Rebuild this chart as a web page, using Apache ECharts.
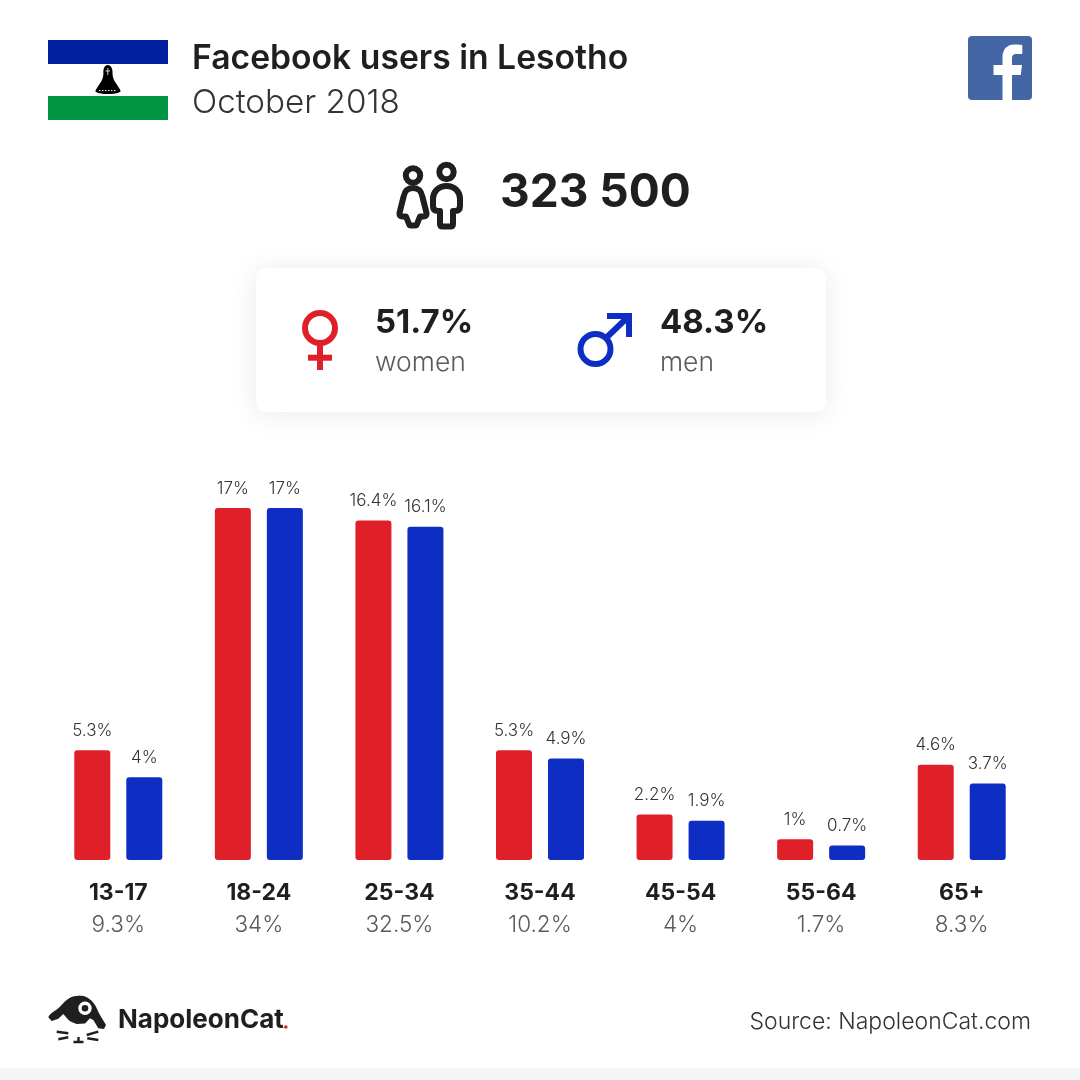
<!DOCTYPE html>
<html><head><meta charset="utf-8">
<style>html,body{margin:0;padding:0;background:#fff}#c{width:1080px;height:1080px}</style>
<script src="https://cdn.jsdelivr.net/npm/echarts@6/dist/echarts.min.js"></script>
</head><body><div id="c"></div>
<script>
const categories = ['13-17','18-24','25-34','35-44','45-54','55-64','65+'];
const womenValues = [5.3,17,16.4,5.3,2.2,1,4.6];
const menValues = [4,17,16.1,4.9,1.9,0.7,3.7];
const ageShares = ['9.3%','34%','32.5%','10.2%','4%','1.7%','8.3%'];
const titleText = 'Facebook users in Lesotho';
const subtitleText = 'October 2018';
const totalText = '323 500';
const womenShare = '51.7%';
const menShare = '48.3%';
const sourceText = 'Source: NapoleonCat.com';

const FONT = 'Inter, "Noto Sans", sans-serif';
const RED = '#df2028', BLUE = '#0e2dc2', DARK = '#1f1f1f', GREY = '#5a5a5a';

const shapes = {
  hat: 'M107.8 65 C105 65 103.4 68 103.4 72 C103.4 76 103 78 101.5 81 L96 89.5 C95 91 95.5 92 97 92.5 C103 94.5 113 94.5 119 92.5 C120.5 92 121 91 120 89.5 L114.5 81 C113 78 112.5 76 112.5 72 C112.5 68 110.6 65 107.8 65 Z',
  hatDots: 'M99 90.6 L117 90.6',
  hatWin: 'M107.8 68 L107.8 75 M105.5 71 L110 71',
  fbF: 'M1012 100 L1012 75 L1020.8 75 L1022 65 L1012 65 L1012 58.8 C1012 56 1012.8 54 1016.8 54 L1022.3 54 L1022.3 45 C1021 44.9 1018 44.6 1014.5 44.6 C1007 44.6 1002.5 49.2 1002.5 57.6 L1002.5 65 L993.5 65 L993.5 75 L1002.5 75 L1002.5 100 Z',
  woman: 'M413 188 C406.5 188 404.5 192 403.5 197 L399.5 213 Q399 216.5 402 216.5 L406 216.5 L409 224 Q409.5 225.5 411 225.5 L415 225.5 Q416.5 225.5 417 224 L420 216.5 L424 216.5 Q427 216.5 426.5 213 L422.5 197 C421.5 192 419.5 188 413 188 Z',
  man: 'M446.5 186 C438 186 433 192 433 199 L433 206 Q433 211 438 211 L440 211 L440 224 Q440 226.5 442.5 226.5 L450.5 226.5 Q453 226.5 453 224 L453 211 L455 211 Q460 211 460 206 L460 199 C460 192 455 186 446.5 186 Z',
  cat: 'M48.3 1017.3 C50 1013 55 1011 58.3 1008.3 C62 1005 63 1003 66.7 1000 C70 997.5 73 996 76.7 996 C80.5 995.6 84 996 86.7 997.3 C90 999 93 1002 95 1005 C97 1008 98 1012 100 1015 L106 1025 L104 1029 L98.3 1028.3 L93.3 1020 L90 1018.3 L85 1023.5 L76.7 1024 C73 1023 70 1021.5 68.3 1019.8 L63.3 1014 L58.3 1018.8 L51.7 1021 Z',
  whiskers: 'M56.7 1031.7 L68.3 1033.3 M58.3 1039.3 L68.3 1037.3 M86.7 1035 L98.3 1031.7 M87.3 1038.3 L98.3 1040 M73.5 1042 L83.5 1042 M78.5 1037 L78.5 1042'
};
Object.keys(shapes).forEach(k => echarts.graphic.registerShape(k, echarts.graphic.extendPath(shapes[k], {})));

function txt(x, y, text, size, weight, fill, align) {
  return {type:'text', x, y, silent:true, style:{text, fontFamily:FONT, fontSize:size, fontWeight:weight, fill, align:align||'left', verticalAlign:'middle'}};
}
function rect(x,y,w,h,fill,r,extra){
  return {type:'rect', silent:true, shape:{x,y,width:w,height:h,r:r||0}, style:Object.assign({fill},extra||{})};
}
function ring(cx,cy,r,stroke,lw,fill){
  return {type:'circle', silent:true, shape:{cx,cy,r}, style:{fill:fill||'transparent',stroke,lineWidth:lw}};
}
function line(x1,y1,x2,y2,stroke,lw){
  return {type:'line', silent:true, shape:{x1,y1,x2,y2}, style:{stroke,lineWidth:lw}};
}

const graphicEls = [
  rect(0,1068,1080,12,'#f5f5f5'),
  // flag
  rect(48,40,120,24,'#00209f'),
  rect(48,96,120,24,'#009543'),
  {type:'hat', silent:true, style:{fill:'#000'}},
  {type:'hatDots', silent:true, style:{fill:'none',stroke:'#fff',lineWidth:1,lineDash:[1.5,1.5]}},
  {type:'hatWin', silent:true, style:{fill:'none',stroke:'#fff',lineWidth:0.8}},
  // header
  txt(192,59,titleText,33.7,600,DARK),
  txt(192,103,subtitleText,33.2,300,'#333'),
  // facebook
  rect(968,36,64,64,'#4566a5',4),
  {type:'fbF', silent:true, style:{fill:'#fff'}},
  // total
  ring(413,175.5,7.2,DARK,6),
  ring(446.5,172,7.2,DARK,6),
  {type:'woman', silent:true, style:{fill:'none',stroke:DARK,lineWidth:6,lineJoin:'round'}},
  {type:'man', silent:true, style:{fill:'none',stroke:DARK,lineWidth:6,lineJoin:'round'}},
  txt(500,193,totalText,46,700,DARK),
  // card
  rect(256,268,570,144,'#fff',10,{shadowBlur:28,shadowColor:'rgba(0,0,0,0.09)',shadowOffsetY:2}),
  ring(320,328,15,RED,6),
  rect(317,345,6,25,RED),
  rect(308,354.7,24,6,RED),
  ring(595.5,349,15,BLUE,6),
  line(606,338,628,317,BLUE,6),
  rect(607,313,25,6,BLUE),
  rect(626,313,6,24,BLUE),
  txt(375,323,womenShare,33,700,DARK),
  txt(375,363,'women',26.5,300,GREY),
  txt(660,323,menShare,33,700,DARK),
  txt(660,363,'men',26.5,300,GREY),
  // footer logo
  {type:'cat', silent:true, style:{fill:DARK}},
  ring(85,1008.3,5,'#fff',3.4,DARK),
  {type:'whiskers', silent:true, style:{fill:'none',stroke:DARK,lineWidth:2.4}},
  txt(118,1020,'NapoleonCat',26,700,DARK),
  {type:'circle', silent:true, shape:{cx:285.8,cy:1027,r:1.8}, style:{fill:RED}},
  txt(1031,1022,sourceText,23,300,'#333','right')
];

const barLabel = {show:true, position:'top', distance:11, formatter:'{c}%', fontFamily:FONT, fontSize:17, fontWeight:300, color:'#333'};
const chart = echarts.init(document.getElementById('c'), null, {renderer:'canvas'});
chart.setOption({
  animation:false,
  backgroundColor:'#fff',
  grid:{left:48, width:984, top:446, height:414, containLabel:false},
  xAxis:{type:'category', data:categories, axisLine:{show:false}, axisTick:{show:false}, splitLine:{show:false},
    axisLabel:{margin:17, interval:0, formatter:(v,i)=>`{a|${v}}\n{b|${ageShares[i]}}`,
      rich:{
        a:{fontFamily:FONT,fontSize:23,fontWeight:700,color:DARK,lineHeight:32,align:'center'},
        b:{fontFamily:FONT,fontSize:22.5,fontWeight:300,color:GREY,lineHeight:32,align:'center'}
      }}},
  yAxis:{type:'value', min:0, max:20, show:false, splitLine:{show:false}},
  graphic:{elements:graphicEls},
  series:[
    {name:'women', type:'bar', data:womenValues, barWidth:36, barGap:'44.44%', itemStyle:{color:RED,borderRadius:3}, label:barLabel},
    {name:'men', type:'bar', data:menValues, barWidth:36, itemStyle:{color:BLUE,borderRadius:3}, label:barLabel}
  ]
});
</script></body></html>
